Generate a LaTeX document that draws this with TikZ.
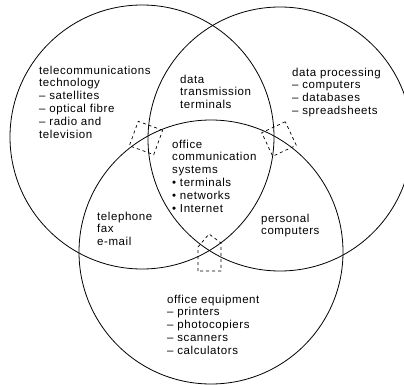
\documentclass[tikz,border=0pt]{standalone}
\usepackage{fontspec}
\setmainfont{Liberation Sans}[LetterSpace=5]
\usepackage{tikz}
\usetikzlibrary{positioning}
\usepackage{xcolor}

\begin{document}
\begin{tikzpicture}[
    x=1pt, y=-1pt,
    ring/.style={draw, line width=0.8pt},
    markbox/.style={draw, dashed, line width=0.7pt, rectangle, minimum size=26pt, inner sep=0pt},
    label/.style={align=left, inner sep=0pt, anchor=north west, font=\fontsize{11.5}{12.8}\selectfont}
]
    \useasboundingbox (0,0) rectangle (404,385);
    \clip (0,0) rectangle (404,385);

    % Circles
    \coordinate (telecom) at (142,137);
    \coordinate (dataproc) at (280,139);
    \coordinate (equip) at (211,252);
    \draw [ring] (telecom) circle [radius=132];
    \draw [ring] (dataproc) circle [radius=132];
    \draw [ring] (equip) circle [radius=132];

    % Dashed marks
    \node (markL) [markbox, rotate=-20] at (146,138) {};
    \node (markR) [markbox, rotate=25] at (279,139) {};
    \draw [markbox] (198,271) -- (198,247) -- (209,234) -- (221,243) -- (221,271) -- cycle;

    % Labels
    \node (telecomtxt) [label] at (39,65.5) {telecommunications\\technology\\-- satellites\\-- optical fibre\\-- radio and\\television};
    \node (transtxt) [label] at (180,74.5) {data\\transmission\\terminals};
    \node (proctxt) [label] at (292,67.5) {data processing\\-- computers\\-- databases\\-- spreadsheets};
    \node (commtxt) [label] at (172,139.5) {office\\communication\\systems\\\textbullet\ terminals\\\textbullet\ networks\\\textbullet\ Internet};
    \node (phonetxt) [label] at (97,211.5) {telephone\\fax\\e-mail};
    \node (pctxt) [label] at (261,213.5) {personal\\computers};
    \node (equiptxt) [label] at (167,294.5) {office equipment\\-- printers\\-- photocopiers\\-- scanners\\-- calculators};
\end{tikzpicture}
\end{document}
